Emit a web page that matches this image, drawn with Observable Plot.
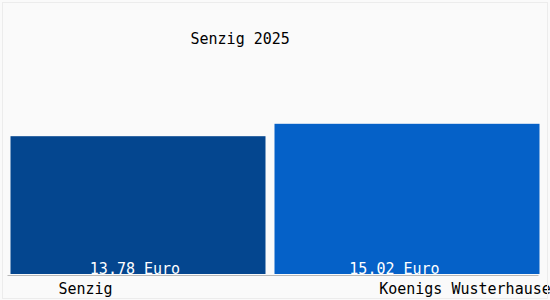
<!DOCTYPE html>
<html>
<head>
<meta charset="utf-8">
<script src="https://cdn.jsdelivr.net/npm/d3@7"></script>
<script src="https://cdn.jsdelivr.net/npm/@observablehq/plot@0.6"></script>
<style>
  html, body { margin: 0; padding: 0; background: #fafafa; }
  #wrap { position: relative; width: 550px; height: 300px; overflow: hidden; }
  #border { position: absolute; left: 2px; top: 2px; width: 544px; height: 295px; border: 1px solid #ececec; pointer-events: none; }
</style>
</head>
<body>
<div id="wrap"><div id="border"></div></div>
<script>
const title = "Senzig 2025";
const categories = ["Senzig", "Koenigs Wusterhausen"];
const values = [13.78, 15.02];
const valueLabels = ["13.78 Euro", "15.02 Euro"];
const colors = ["#04468f", "#0561c8"];

const data = categories.map((c, i) => ({cat: c, value: values[i], label: valueLabels[i]}));
const first = data.filter(d => d.cat === categories[0]);
const second = data.filter(d => d.cat === categories[1]);
const font = "DejaVu Sans Mono, monospace";
const txt = {fontSize: 15, fontFamily: font, lineAnchor: "bottom", textAnchor: "middle"};

const chart = Plot.plot({
  width: 550,
  height: 300,
  marginLeft: 7.5,
  marginRight: 11.5,
  marginTop: 0,
  marginBottom: 26,
  style: {background: "#fafafa", fontFamily: font, fontSize: "15px", overflow: "hidden"},
  x: {domain: categories, paddingInner: 0.0333, paddingOuter: 0, axis: null},
  y: {domain: [0, 27.4], axis: null},
  color: {domain: categories, range: colors},
  marks: [
    Plot.barY(first, {x: "cat", y: "value", fill: "cat", insetLeft: 2.5, insetRight: 2.5}),
    Plot.barY(second, {x: "cat", y: "value", fill: "cat", insetLeft: -2.5, insetRight: -2.5}),
    Plot.ruleY([0], {stroke: "#b8b8b8", strokeWidth: 1, dy: 1}),
    Plot.text(first, {...txt, x: "cat", y: 0, text: "label", fill: "white", dy: -1, dx: -3.5}),
    Plot.text(second, {...txt, x: "cat", y: 0, text: "label", fill: "white", dy: -1, dx: -13}),
    Plot.text(first, {...txt, x: "cat", y: 0, text: "cat", fill: "black", dy: 19, dx: -53}),
    Plot.text(second, {...txt, x: "cat", y: 0, text: "cat", fill: "black", dy: 19, dx: 62}),
    Plot.text([title], {frameAnchor: "top-left", text: d => d, dx: 182.5, dy: 33, fill: "black", fontSize: 15, fontFamily: font, textAnchor: "start", lineAnchor: "top"})
  ]
});
document.getElementById("wrap").prepend(chart);
</script>
</body>
</html>
